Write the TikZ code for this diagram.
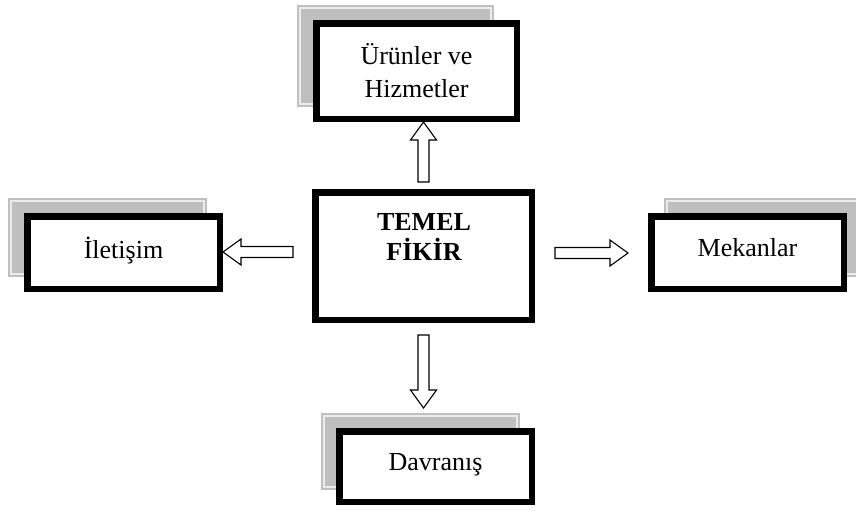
\documentclass[tikz,border=0pt]{standalone}
\usepackage{fontspec}
\setmainfont{Liberation Serif}
\usetikzlibrary{backgrounds}
\begin{document}
\begin{tikzpicture}[x=0.5pt,y=-0.5pt]
    \tikzstyle{every node}=[font=\fontsize{13}{16.5}\selectfont]
    \tikzstyle{box}=[draw,line width=3.25pt,fill=white,align=center,minimum width=96.25pt,minimum height=36.25pt,inner sep=0pt]
    \tikzstyle{onebox}=[box,text depth=5pt]
    \tikzstyle{shade}=[fill=black!25]
    \tikzstyle{shadeline}=[draw=black!8,line width=0.6pt]
    \tikzstyle{hollow}=[draw=black,fill=white,line width=0.55pt,line join=miter]
    \newcommand\hollowarrow[3]{
        \begin{scope}[shift={(#1)},rotate=#2]
            \draw[hollow] (0pt,-2.75pt)--(#3-9pt,-2.75pt)--(#3-9pt,-6.5pt)--(#3,0pt)
                --(#3-9pt,6.5pt)--(#3-9pt,2.75pt)--(0pt,2.75pt)--cycle;
        \end{scope}
    }
    % node, x shift of left side, x shift of right side, y shift
    \newcommand\boxshade[4]{
        \fill[shade] ([shift={(#2,#4)}]#1.north west) rectangle ([shift={(#3,#4)}]#1.south east);
        \draw[shadeline] ([shift={(#2+1.5pt,#4-1.5pt)}]#1.north west) rectangle ([shift={(#3-1.5pt,#4+1.5pt)}]#1.south east);
    }
    \useasboundingbox (0,0) rectangle (856,511);
    % boxes
    \node[box,minimum width=100.25pt,minimum height=47.75pt] (urun) at (416.5,71) {Ürünler ve\\Hizmetler};
    \node[onebox] (iletisim) at (123.5,252.5) {İletişim};
    \node[onebox] (mekan) at (747.5,252.5) {Mekanlar};
    \node[onebox,minimum height=35.25pt] (davranis) at (435.5,466.5) {Davranış};
    \node[box,minimum width=108.25pt,minimum height=63.75pt] (fikir) at (423.5,256) {};
    \node[font=\fontsize{13}{15}\selectfont\bfseries,align=center] (fikirtext) at (424,237) {TEMEL\\FİKİR};
    % shadows
    \begin{scope}[on background layer]
        \boxshade{urun}{-8pt}{-13pt}{7.5pt}
        \boxshade{iletisim}{-8pt}{-8pt}{7.5pt}
        \boxshade{mekan}{8pt}{8pt}{7.5pt}
        \boxshade{davranis}{-7.5pt}{-7.5pt}{7.5pt}
    \end{scope}
    % arrows
    \coordinate (upt) at ([yshift=3.5pt]fikir.north);
    \coordinate (leftt) at ([xshift=-9.5pt,yshift=2pt]fikir.west);
    \coordinate (rightt) at ([xshift=10pt,yshift=1.5pt]fikir.east);
    \coordinate (downt) at ([yshift=-6pt]fikir.south);
    \hollowarrow{upt}{90}{30pt}
    \hollowarrow{leftt}{180}{35pt}
    \hollowarrow{rightt}{0}{36.5pt}
    \hollowarrow{downt}{270}{36.5pt}
\end{tikzpicture}
\end{document}
